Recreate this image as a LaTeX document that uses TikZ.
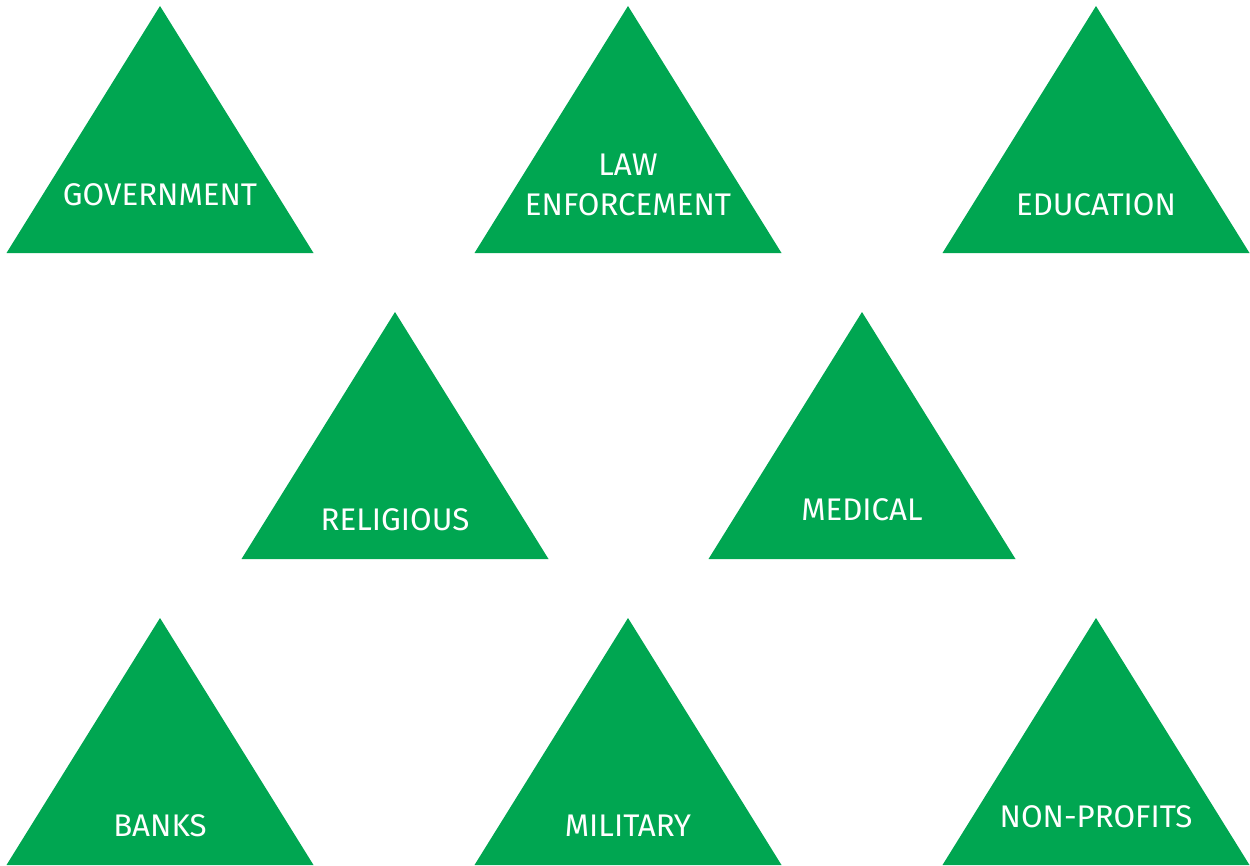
\documentclass[tikz,border=0pt]{standalone}
\usepackage{fontspec}
\setmainfont{Fira Sans}
\usetikzlibrary{positioning}
\definecolor{sectorgreen}{RGB}{0, 166, 81}

\tikzset{
  sector/.style={fill=sectorgreen, draw=none},
  sectorlabel/.style={text=white, align=center, font=\fontsize{17.8}{23}\selectfont, inner sep=0pt}
}

\begin{document}
\begin{tikzpicture}[x=0.02cm, y=-0.02cm]
  \useasboundingbox (0,0) rectangle (1250,865);

  % apex x, apex y, label y, name, text
  \foreach \ax/\ay/\ly/\nm/\txt in {
      160/6/195/gov/GOVERNMENT,
      628/6/185/law/{LAW\\ENFORCEMENT},
      1096/6/205/edu/EDUCATION,
      395/312/520/rel/RELIGIOUS,
      862/312/510/med/MEDICAL,
      160/618/826/bank/BANKS,
      628/618/826/mil/MILITARY,
      1096/618/817/npo/NON-PROFITS} {
    \fill[sector] (\ax,\ay) -- ++(153.5,247) -- ++(-307,0) -- cycle;
    \node[sectorlabel] (\nm) at (\ax,\ly) {\txt};
  }
\end{tikzpicture}
\end{document}
